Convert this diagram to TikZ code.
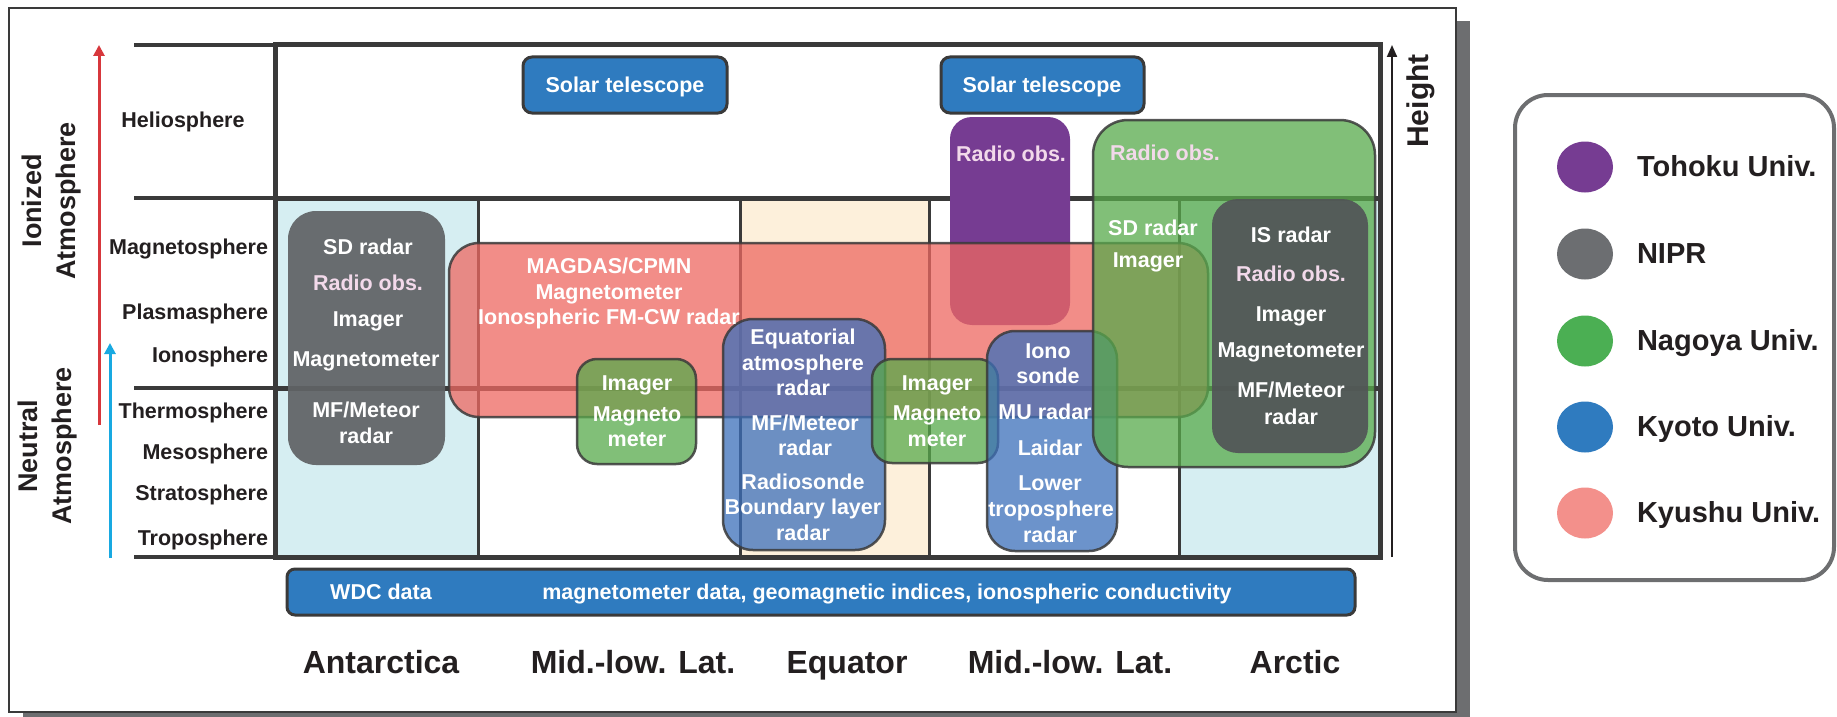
\documentclass[tikz,border=0pt]{standalone}
\usepackage{fontspec}
\setmainfont{Liberation Sans}
\usetikzlibrary{arrows.meta,shapes.geometric}

\definecolor{linedark}{HTML}{3A3A3A}
\definecolor{inkdark}{HTML}{231F20}
\definecolor{framegray}{HTML}{6D6E70}
\definecolor{antbg}{HTML}{D6EEF2}
\definecolor{eqbg}{HTML}{FDF0DB}
\definecolor{tohoku}{HTML}{763C92}
\definecolor{nipr}{HTML}{606366}
\definecolor{niprkey}{HTML}{6C6E71}
\definecolor{nagoya}{HTML}{4BAF53}
\definecolor{nagoyafill}{HTML}{58AA4B}
\definecolor{kyoto}{HTML}{2F7BBF}
\definecolor{kyotofill}{HTML}{3C6FBA}
\definecolor{kyushu}{HTML}{F3908B}
\definecolor{kyushufill}{HTML}{EE6861}
\definecolor{radiopink}{HTML}{F2D9EA}
\definecolor{ionred}{HTML}{D7373C}
\definecolor{neutblue}{HTML}{18A9E1}

\begin{document}
\begin{tikzpicture}[x=1pt,y=-1pt,
  every node/.style={inner sep=0pt,outer sep=0pt},
  rowlabel/.style={anchor=mid east,yshift=-5pt,text=inkdark,font=\fontsize{21.5}{24}\selectfont\bfseries},
  sidelabel/.style={rotate=90,align=center,text=inkdark,font=\fontsize{27}{34}\selectfont\bfseries},
  collabel/.style={anchor=base,text=inkdark,font=\fontsize{32}{36}\selectfont\bfseries},
  keylabel/.style={anchor=mid west,yshift=-7pt,text=inkdark,font=\fontsize{29}{32}\selectfont\bfseries},
  keydot/.style={ellipse,minimum width=56,minimum height=51},
  boxtext/.style={anchor=mid,yshift=-5pt,text=white,font=\fontsize{21.5}{24}\selectfont\bfseries},
  radiotext/.style={boxtext,text=radiopink},
  orgbox/.style={rectangle,rounded corners=#1,draw=linedark,line width=2.5pt,draw opacity=0.85},
  orgbox/.default=25pt,
  kyushubox/.style={orgbox=30pt,fill=kyushufill,fill opacity=0.75},
  nagoyabox/.style={orgbox=#1,fill=nagoyafill,fill opacity=0.75},
  kyotobox/.style={orgbox=#1,fill=kyotofill,fill opacity=0.75},
  niprbox/.style={rectangle,rounded corners=#1,fill=nipr,fill opacity=0.93},
  solarbox/.style={rectangle,rounded corners=9pt,draw=linedark,line width=3pt,fill=kyoto}
]
\useasboundingbox (0,0) rectangle (1837,717);

% frame with shadow
\fill[framegray] (23,21) rectangle (1470,717);
\draw[linedark,line width=2pt,fill=white] (9,8) rectangle (1456,712);

% column backgrounds
\fill[antbg] (275,198) rectangle (478,557);
\fill[eqbg] (740,198) rectangle (929,557);
\fill[antbg] (1179,198) rectangle (1380,557);

% height scale
\foreach \yy in {45,198,388,557}
  \draw[linedark,line width=3.5pt] (134,\yy) -- (277,\yy);
\foreach \xx in {478,740,929,1179}
  \draw[linedark,line width=3pt] (\xx,198) -- (\xx,557);
\draw[linedark,line width=5pt] (275,388) -- (1380,388);
\draw[linedark,line width=5pt] (275,198) -- (1380,198);
\draw[linedark,line width=5pt] (275,45) rectangle (1380,557);

\coordinate (ionTop) at (99,45);
\coordinate (ionFoot) at (99,425);
\coordinate (neutTop) at (110,343);
\coordinate (neutFoot) at (110,558);
\coordinate (heightTop) at (1392,45);
\coordinate (heightFoot) at (1392,557);
\draw[ionred,line width=3pt,-{Triangle[length=11pt,width=11pt]}] (ionFoot) -- (ionTop);
\draw[neutblue,line width=3pt,-{Triangle[length=11pt,width=11pt]}] (neutFoot) -- (neutTop);
\draw[inkdark,line width=2pt,-{Triangle[length=12pt,width=10pt]}] (heightFoot) -- (heightTop);

\node[sidelabel] (ionized) at (52,201) {Ionized\\Atmosphere};
\node[sidelabel] (neutral) at (48,446) {Neutral\\Atmosphere};
\node[sidelabel,font=\fontsize{30}{34}\selectfont\bfseries] (height) at (1421,101) {Height};

\node[rowlabel,anchor=mid] (helio) at (183,120) {Heliosphere};
\node[rowlabel] (magneto) at (268,247) {Magnetosphere};
\node[rowlabel] (plasma) at (268,312) {Plasmasphere};
\node[rowlabel] (iono) at (268,355) {Ionosphere};
\node[rowlabel] (thermo) at (268,411) {Thermosphere};
\node[rowlabel] (meso) at (268,452) {Mesosphere};
\node[rowlabel] (strato) at (268,493) {Stratosphere};
\node[rowlabel] (tropo) at (268,538) {Troposphere};

% observation boxes
\node[rectangle,rounded corners=22pt,fill=tohoku,minimum width=120,minimum height=208] (tohokuRadio) at (1010,221) {};
\node[niprbox=28pt,minimum width=157,minimum height=254] (niprAnt) at (366.5,338) {};
\node[kyushubox,minimum width=759,minimum height=174] (kyushuBand) at (828.5,330) {};
\node[nagoyabox=20pt,minimum width=119,minimum height=105] (nagoyaMid) at (636.5,411.5) {};
\node[kyotobox=30pt,minimum width=162,minimum height=231] (kyotoEq) at (804,434.5) {};
\node[nagoyabox=20pt,minimum width=126,minimum height=104] (nagoyaEq) at (935,411) {};
\node[kyotobox=28pt,minimum width=130,minimum height=220] (kyotoMU) at (1052,441) {};
\node[nagoyabox=35pt,minimum width=282,minimum height=347] (nagoyaArc) at (1234,293.5) {};
\node[niprbox=26pt,fill=nipr!85!black,fill opacity=0.92,minimum width=156,minimum height=254] (niprArc) at (1290,326) {};
\node[solarbox,minimum width=204,minimum height=56] (solarA) at (625,85) {};
\node[solarbox,minimum width=203,minimum height=56] (solarB) at (1042.5,85) {};
\node[solarbox,rounded corners=8pt,minimum width=1068,minimum height=46] (wdc) at (821,592) {};

% box texts
\node[boxtext] (solarAText) at (625,85) {Solar telescope};
\node[boxtext] (solarBText) at (1042,85) {Solar telescope};
\node[boxtext] (wdcName) at (381,592) {WDC data};
\node[boxtext] (wdcList) at (887,592) {magnetometer data, geomagnetic indices, ionospheric conductivity};

\node[radiotext] (tohokuT) at (1011,154) {Radio obs.};

\node[boxtext] (niprAntA) at (368,247) {SD radar};
\node[radiotext] (niprAntB) at (368,283) {Radio obs.};
\node[boxtext] (niprAntC) at (368,319) {Imager};
\node[boxtext] (niprAntD) at (366,359) {Magnetometer};
\node[boxtext] (niprAntE) at (366,410) {MF/Meteor};
\node[boxtext] (niprAntF) at (366,436) {radar};

\node[boxtext] (kyushuA) at (609,266) {MAGDAS/CPMN};
\node[boxtext] (kyushuB) at (609,292) {Magnetometer};
\node[boxtext] (kyushuC) at (609,317) {Ionospheric FM-CW radar};

\node[boxtext] (nagoyaMidA) at (637,383) {Imager};
\node[boxtext] (nagoyaMidB) at (637,414) {Magneto};
\node[boxtext] (nagoyaMidC) at (637,439) {meter};

\node[boxtext] (kyotoEqA) at (803,337) {Equatorial};
\node[boxtext] (kyotoEqB) at (803,363) {atmosphere};
\node[boxtext] (kyotoEqC) at (803,388) {radar};
\node[boxtext] (kyotoEqD) at (805,423) {MF/Meteor};
\node[boxtext] (kyotoEqE) at (805,448) {radar};
\node[boxtext] (kyotoEqF) at (803,482) {Radiosonde};
\node[boxtext] (kyotoEqG) at (803,507) {Boundary layer};
\node[boxtext] (kyotoEqH) at (803,533) {radar};

\node[boxtext] (nagoyaEqA) at (937,383) {Imager};
\node[boxtext] (nagoyaEqB) at (937,413) {Magneto};
\node[boxtext] (nagoyaEqC) at (937,439) {meter};

\node[boxtext] (kyotoMUA) at (1048,351) {Iono};
\node[boxtext] (kyotoMUB) at (1048,376) {sonde};
\node[boxtext] (kyotoMUC) at (1045,412) {MU radar};
\node[boxtext] (kyotoMUD) at (1050,448) {Laidar};
\node[boxtext] (kyotoMUE) at (1050,483) {Lower};
\node[boxtext] (kyotoMUF) at (1051,509) {troposphere};
\node[boxtext] (kyotoMUG) at (1050,535) {radar};

\node[radiotext] (nagoyaArcA) at (1165,153) {Radio obs.};
\node[boxtext] (nagoyaArcB) at (1153,228) {SD radar};
\node[boxtext] (nagoyaArcC) at (1148,260) {Imager};

\node[boxtext] (niprArcA) at (1291,235) {IS radar};
\node[radiotext] (niprArcB) at (1291,274) {Radio obs.};
\node[boxtext] (niprArcC) at (1291,314) {Imager};
\node[boxtext] (niprArcD) at (1291,350) {Magnetometer};
\node[boxtext] (niprArcE) at (1291,390) {MF/Meteor};
\node[boxtext] (niprArcF) at (1291,417) {radar};

% regions
\node[collabel] (antarctica) at (381,673) {Antarctica};
\node[collabel] (midSouth) at (633,673) {Mid.-low. Lat.};
\node[collabel] (equator) at (847,673) {Equator};
\node[collabel] (midNorth) at (1070,673) {Mid.-low. Lat.};
\node[collabel] (arctic) at (1295,673) {Arctic};

% legend
\draw[framegray,line width=4pt,rounded corners=33pt,fill=white] (1515,95) rectangle (1834,580);
\node[keydot,fill=tohoku] (keyTohoku) at (1585,167) {};
\node[keydot,fill=niprkey] (keyNipr) at (1585,254) {};
\node[keydot,fill=nagoya] (keyNagoya) at (1585,341) {};
\node[keydot,fill=kyoto] (keyKyoto) at (1585,427) {};
\node[keydot,fill=kyushu] (keyKyushu) at (1585,513) {};
\node[keylabel] (keyTohokuText) at (1637,167) {Tohoku Univ.};
\node[keylabel] (keyNiprText) at (1637,254) {NIPR};
\node[keylabel] (keyNagoyaText) at (1637,341) {Nagoya Univ.};
\node[keylabel] (keyKyotoText) at (1637,427) {Kyoto Univ.};
\node[keylabel] (keyKyushuText) at (1637,513) {Kyushu Univ.};
\end{tikzpicture}
\end{document}
